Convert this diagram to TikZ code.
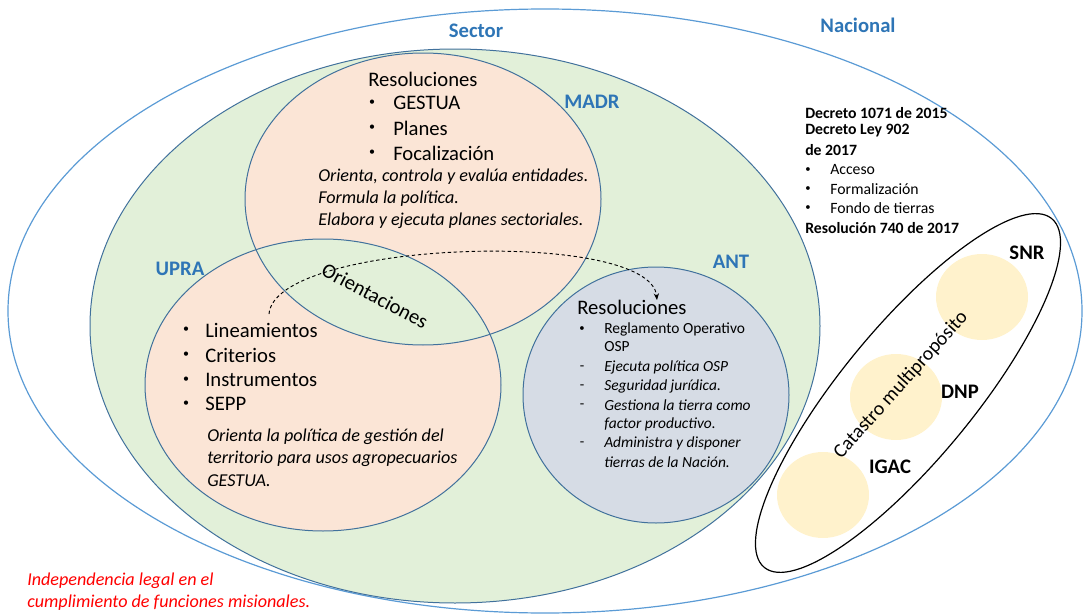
\documentclass[tikz,border=0pt]{standalone}
\usepackage{fontspec}
\setmainfont{Carlito}
\usetikzlibrary{arrows.meta}
\definecolor{lblue}{HTML}{5B9BD5}
\definecolor{dblue}{HTML}{2E75B6}
\definecolor{rim}{HTML}{41719C}
\definecolor{sgreen}{HTML}{E2F0D9}
\definecolor{peach}{HTML}{FBE5D6}
\definecolor{slate}{HTML}{D6DCE5}
\definecolor{cream}{HTML}{FFF2CC}

\tikzset{
	lbl/.style={font=\fontsize{15.5}{18}\selectfont\bfseries, text=dblue, inner sep=0pt},
	org/.style={font=\fontsize{15.5}{18}\selectfont\bfseries, inner sep=0pt},
	big/.style={font=\fontsize{15.5}{18}\selectfont, anchor=west, inner sep=0pt},
	note/.style={font=\fontsize{13.6}{15}\selectfont\itshape, anchor=west, inner sep=0pt},
	small/.style={font=\fontsize{11.6}{13}\selectfont, anchor=west, inner sep=0pt},
	smallit/.style={small, font=\fontsize{11.6}{13}\selectfont\itshape},
	law/.style={font=\fontsize{11.8}{14}\selectfont\bfseries, anchor=west, inner sep=0pt},
	lawitem/.style={font=\fontsize{11.8}{14}\selectfont, anchor=west, inner sep=0pt},
	bul/.style={inner sep=0pt, font=\fontsize{9}{10}\selectfont}
}

\begin{document}
\begin{tikzpicture}[x=0.75pt, y=-0.75pt]
		%%%%% START %%%%%
		\useasboundingbox (0,0) rectangle (1083,614);
		
		% nacional
		\draw[lblue, line width=0.9pt] (545,311) ellipse [x radius=537, y radius=302];
		% sector
		\draw[rim, fill=sgreen, line width=0.75pt] (455,326) ellipse [x radius=365, y radius=277];
		
		% MADR and UPRA with their lens
		\fill[peach] (423,199) ellipse [x radius=178, y radius=146];
		\fill[peach] (323,385) ellipse [x radius=178, y radius=146];
		\begin{scope}
			\clip (423,199) ellipse [x radius=178, y radius=146];
			\fill[sgreen] (323,385) ellipse [x radius=178, y radius=146];
		\end{scope}
		\draw[rim, line width=0.75pt] (423,199) ellipse [x radius=178, y radius=146];
		\draw[rim, line width=0.75pt] (323,385) ellipse [x radius=178, y radius=146];
		
		% ANT
		\draw[rim, fill=slate, line width=0.75pt] (656,395) ellipse [x radius=133, y radius=128];
		
		% catastro
		\fill[cream] (982,297) ellipse [x radius=46, y radius=43];
		\fill[cream] (896,397) ellipse [x radius=46, y radius=43];
		\fill[cream] (823,495) ellipse [x radius=46, y radius=43];
		\draw[black, line width=0.9pt, rotate around={50.5:(908,393)}] (908,393) ellipse [x radius=226, y radius=66];
		
		% labels
		\node[lbl] (nacional) at (858,25) {Nacional};
		\node[lbl] (sector) at (476,31) {Sector};
		\node[lbl] (madr) at (592,102) {MADR};
		\node[lbl] (upra) at (180,269) {UPRA};
		\node[lbl] (ant) at (731,262) {ANT};
		\node[org] (snr) at (1027,253) {SNR};
		\node[org] (dnp) at (960,392) {DNP};
		\node[org] (igac) at (890,467) {IGAC};
		\node[font=\fontsize{14.8}{16}\selectfont, inner sep=0pt, rotate=48] (catastro) at (901,385) {Catastro multipropósito};
		
		% MADR text
		\node[big] (madrres) at (368,79) {Resoluciones};
		\foreach \y/\t in {103/GESTUA, 128/Planes, 153/Focalización}{
			\node[bul] at (372,\y) {\textbullet};
			\node[big] (madr\y) at (393,\y) {\t};
		}
		\foreach \y/\t in {177/{Orienta, controla y evalúa entidades.}, 199/{Formula la política.}, 221/{Elabora y ejecuta planes sectoriales.}}{
			\node[note] (madrnote\y) at (318,\y) {\t};
		}
		
		% UPRA text
		\node[big, anchor=center, rotate=-28] (orient) at (375,296) {Orientaciones};
		\foreach \y/\t in {330/Lineamientos, 355/Criterios, 380/Instrumentos, 404/SEPP}{
			\node[bul] at (186,\y) {\textbullet};
			\node[big] (upra\y) at (205,\y) {\t};
		}
		\foreach \y/\t in {437/{Orienta la política de gestión del}, 459/{territorio para usos agropecuarios}, 481/{GESTUA.}}{
			\node[note] (upranote\y) at (207,\y) {\t};
		}
		
		% ANT text
		\node[big] (antres) at (577,307) {Resoluciones};
		\node[bul, font=\fontsize{8}{9}\selectfont] at (582,329) {\textbullet};
		\node[small] (antreg) at (604,329) {Reglamento Operativo};
		\node[small] (antosp) at (604,347) {OSP};
		\foreach \y in {368, 387, 406, 444}{
			\node[bul, font=\fontsize{11}{13}\selectfont] at (582,\y) {-};
		}
		\foreach \y/\t in {367/{Ejecuta política OSP}, 386/{Seguridad jurídica.}, 405/{Gestiona la tierra como}, 424/{factor productivo.}, 443/{Administra y disponer}, 462/{tierras de la Nación.}}{
			\node[smallit] (antnote\y) at (604,\y) {\t};
		}
		
		% decretos
		\node[law] (dec1) at (805,113) {Decreto 1071 de 2015};
		\node[law] (dec2) at (805,131) {Decreto Ley 902};
		\node[law] (dec3) at (805,150) {de 2017};
		\foreach \y/\t in {170/Acceso, 189/Formalización, 208/Fondo de tierras}{
			\node[bul, font=\fontsize{8}{9}\selectfont] at (808,\y) {\textbullet};
			\node[lawitem] (dec\y) at (830,\y) {\t};
		}
		\node[law] (res740) at (805,228) {Resolución 740 de 2017};
		
		% dashed link
		\coordinate (linkstart) at (269,314);
		\coordinate (linkend) at (657,300);
		\draw[dash pattern=on 2.5pt off 2pt, line width=0.7pt, -{Stealth[length=5pt, width=4pt]}] (linkstart) .. controls (275,240) and (650,228) .. (linkend);
		
		% note
		\node[note, text=red] (indep1) at (27,581) {Independencia legal en el};
		\node[note, text=red] (indep2) at (27,603) {cumplimiento de funciones misionales.};
		%%%%% END %%%%%
\end{tikzpicture}
\end{document}
